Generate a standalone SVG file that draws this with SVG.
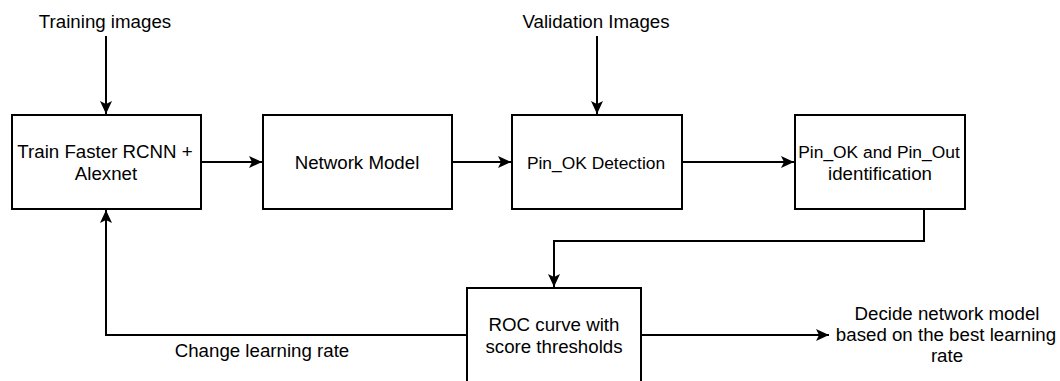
<svg xmlns="http://www.w3.org/2000/svg" width="1060" height="381" viewBox="0 0 1060 381">
<style>
.box{fill:#fff;stroke:#000;stroke-width:2}
.ln{fill:none;stroke:#000;stroke-width:2}
text{font-family:"Liberation Sans",Arial,sans-serif;font-size:18.7px;fill:#000;text-anchor:middle}
.sm{font-size:17.4px}
</style>
<defs>
<marker id="ah" markerUnits="userSpaceOnUse" markerWidth="14" markerHeight="14" viewBox="0 0 14 14" refX="13" refY="7" orient="auto">
<path d="M0,1 L13,7 L0,13 L3,7 Z" fill="#000"/>
</marker>
</defs>
<rect width="1060" height="381" fill="#fff"/>
<g id="connectors">
<line class="ln" x1="106" y1="36" x2="106" y2="114" marker-end="url(#ah)"/>
<line class="ln" x1="597" y1="36" x2="597" y2="114" marker-end="url(#ah)"/>
<line class="ln" x1="201" y1="162" x2="262" y2="162" marker-end="url(#ah)"/>
<line class="ln" x1="452" y1="162" x2="511" y2="162" marker-end="url(#ah)"/>
<line class="ln" x1="682" y1="162" x2="794" y2="162" marker-end="url(#ah)"/>
<polyline class="ln" points="924,209 924,241 554,241 554,287" marker-end="url(#ah)"/>
<polyline class="ln" points="467,335 106,335 106,210" marker-end="url(#ah)"/>
<line class="ln" x1="641" y1="335" x2="829" y2="335" marker-end="url(#ah)"/>
<text x="262" y="357">Change learning rate</text>
</g>
<g id="training-images"><text x="105" y="28">Training images</text></g>
<g id="validation-images"><text x="596" y="28">Validation Images</text></g>
<g id="train">
<rect class="box" x="12" y="115" width="189" height="94"/>
<text x="105" y="158">Train Faster RCNN +</text>
<text x="106" y="180">Alexnet</text>
</g>
<g id="network-model">
<rect class="box" x="263" y="115" width="189" height="94"/>
<text x="357" y="169">Network Model</text>
</g>
<g id="pin-ok-detection">
<rect class="box" x="512" y="115" width="170" height="94"/>
<text class="sm" x="596" y="169">Pin_OK Detection</text>
</g>
<g id="pin-identification">
<rect class="box" x="795" y="115" width="170" height="94"/>
<text class="sm" x="879" y="158">Pin_OK and Pin_Out</text>
<text x="880" y="180">identification</text>
</g>
<g id="roc">
<rect class="box" x="467" y="288" width="174" height="110"/>
<text x="554" y="331">ROC curve with</text>
<text x="554" y="353">score thresholds</text>
</g>
<g id="decide">
<text x="947" y="320">Decide network model</text>
<text x="946" y="341">based on the best learning</text>
<text x="947" y="362">rate</text>
</g>
</svg>
